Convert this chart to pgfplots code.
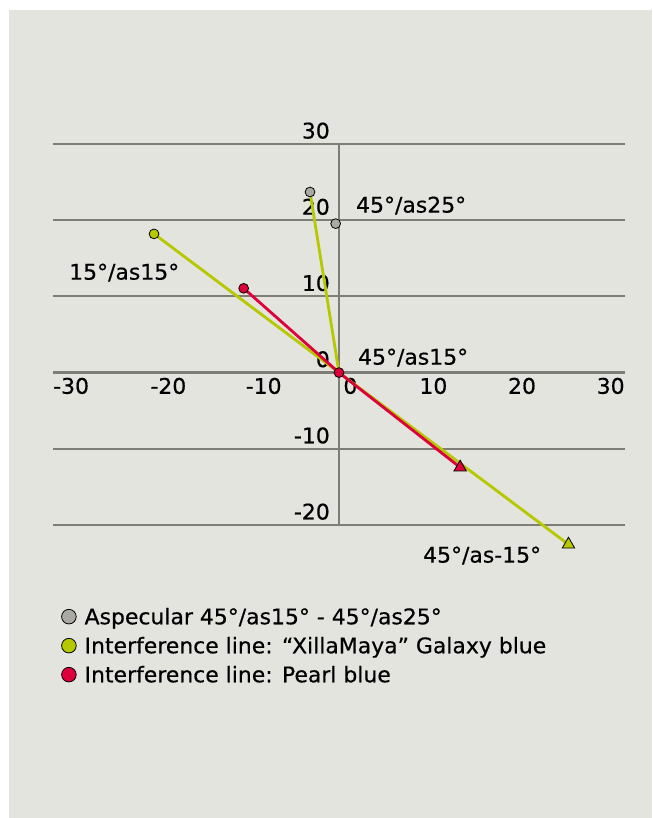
\documentclass[border=0pt]{standalone}
\usepackage{fontspec}
\setmainfont{DejaVu Sans}[FakeStretch=1.02, FakeBold=0.5]
\usepackage{pgfplots}
\pgfplotsset{compat=1.18}
\definecolor{panel}{RGB}{227,228,222}
\definecolor{gridc}{RGB}{126,126,118}
\definecolor{lime}{RGB}{181,200,0}
\definecolor{crim}{RGB}{222,0,58}
\definecolor{greyc}{RGB}{170,170,162}
\begin{document}
\fontsize{21.5bp}{25bp}\selectfont
\begin{tikzpicture}
\path[use as bounding box, fill=white] (0,0) rectangle (653bp,818bp);
\fill[panel] (9bp,0) rectangle (652bp,808bp);
\begin{axis}[
  at={(53bp,293bp)}, anchor=south west,
  x=9.533bp, y=7.62bp,
  xmin=-30, xmax=30, ymin=-20, ymax=30,
  clip=false,
  axis lines=middle,
  axis line style={-, gridc, line width=2.4bp},
  major tick length=0pt,
  hide obscured x ticks=false, hide obscured y ticks=false,
  xtick={-28.1,-17.9,-7.9,1.2,9.9,19.2,28.5},
  xticklabels={-30,-20,-10,0,10,20,30},
  ytick={-20,-10,0,10,20,30},
  yticklabels={-20,-10,0,10,20,30},
  ymajorgrids, grid style={gridc, line width=2bp},
  xticklabel style={anchor=north, inner sep=0pt, yshift=-5bp},
  yticklabel style={anchor=south east, inner sep=0pt, xshift=-9bp, yshift=5bp},
  legend cell align=left,
  legend style={at={(0.014,-0.218)}, anchor=north west, draw=none, fill=none,
    inner sep=0pt, row sep=8bp, column sep=8bp,
    nodes={inner sep=0pt, text height=16bp, text depth=5bp, anchor=base west}},
]
% lines
\addplot[lime, line width=2.8bp, forget plot] coordinates {(-19.4,18.2) (0,0) (24.07,-22.55)};
\addplot[lime, line width=2.8bp, forget plot] coordinates {(-3.04,23.7) (0,0)};
\addplot[crim, line width=2.8bp, forget plot] coordinates {(-10,11.06) (0,0) (12.71,-12.44)};
% marks
\addplot[only marks, mark=*, mark size=4.9bp, mark options={fill=greyc, draw=black, line width=0.8bp}, forget plot]
  coordinates {(-3.04,23.7) (-0.35,19.55)};
\addplot[only marks, mark=*, mark size=4.9bp, mark options={fill=lime, draw=black, line width=0.8bp}, forget plot]
  coordinates {(-19.4,18.2)};
\addplot[only marks, mark=triangle*, mark size=7.2bp, mark options={fill=lime, draw=black, line width=0.8bp}, forget plot]
  coordinates {(24.07,-22.55)};
\addplot[only marks, mark=*, mark size=4.9bp, mark options={fill=crim, draw=black, line width=0.8bp}, forget plot]
  coordinates {(-10,11.06) (0,0)};
\addplot[only marks, mark=triangle*, mark size=7.2bp, mark options={fill=crim, draw=black, line width=0.8bp}, forget plot]
  coordinates {(12.71,-12.44)};
% legend
\addlegendimage{legend image code/.code={\draw[black, line width=0.8bp, fill=greyc] (7.3bp,7.6bp) circle[radius=7.3bp];}}
\addlegendentry{Aspecular 45°/as15° - 45°/as25°}
\addlegendimage{legend image code/.code={\draw[black, line width=0.8bp, fill=lime] (7.3bp,7.6bp) circle[radius=7.3bp];}}
\addlegendentry{Interference line: “XillaMaya” Galaxy blue}
\addlegendimage{legend image code/.code={\draw[black, line width=0.8bp, fill=crim] (7.3bp,7.6bp) circle[radius=7.3bp];}}
\addlegendentry{Interference line: Pearl blue}
% point labels
\node[anchor=base west, inner sep=0pt] at (axis cs:1.78,21.0) {45°/as25°};
\node[anchor=base west, inner sep=0pt] at (axis cs:-28.32,12.2) {15°/as15°};
\node[anchor=base west, inner sep=0pt] at (axis cs:1.99,1.05) {45°/as15°};
\node[anchor=base west, inner sep=0pt] at (axis cs:8.81,-24.93) {45°/as-15°};
\end{axis}
\end{tikzpicture}
\end{document}
